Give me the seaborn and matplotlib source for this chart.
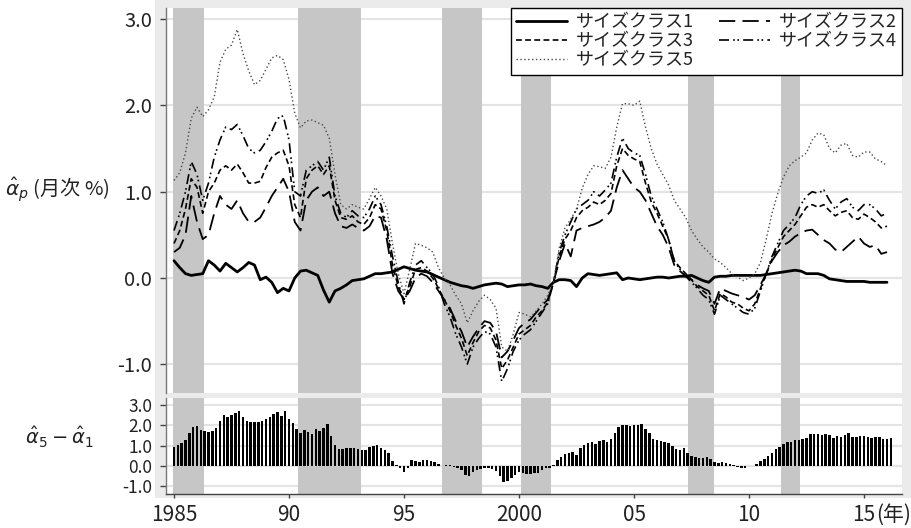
import numpy as np
import pandas as pd
import matplotlib
matplotlib.use("Agg")
import matplotlib.pyplot as plt
from matplotlib.patches import Rectangle
import seaborn as sns

# ---------------- data ----------------
# quarterly dates 1985Q1 .. 2016Q1
quarters = 1985 + np.arange(125) / 4.0
# bimonthly dates for the difference bars
bimonths = 1985 + np.arange(188) / 6.0

class1 = [
    0.20, 0.12, 0.05, 0.03,   # 1985
    0.04, 0.05, 0.20, 0.15,   # 1986
    0.08, 0.17, 0.12, 0.07,   # 1987
    0.12, 0.18, 0.15, -0.02,  # 1988
    0.01, -0.05, -0.17, -0.12,  # 1989
    -0.15, 0.00, 0.08, 0.09,  # 1990
    0.06, 0.03, -0.14, -0.28,  # 1991
    -0.15, -0.12, -0.08, -0.03,  # 1992
    -0.02, -0.01, 0.02, 0.05,  # 1993
    0.05, 0.06, 0.07, 0.10,   # 1994
    0.13, 0.11, 0.09, 0.08,   # 1995
    0.07, 0.04, 0.01, -0.02,  # 1996
    -0.05, -0.07, -0.09, -0.10,  # 1997
    -0.12, -0.10, -0.08, -0.07,  # 1998
    -0.06, -0.07, -0.10, -0.09,  # 1999
    -0.08, -0.08, -0.07, -0.09,  # 2000
    -0.10, -0.12, -0.05, -0.02,  # 2001
    -0.02, -0.03, -0.10, 0.00,  # 2002
    0.05, 0.04, 0.03, 0.04,   # 2003
    0.05, 0.06, -0.02, 0.00,  # 2004
    -0.01, -0.02, -0.01, 0.00,  # 2005
    0.01, 0.01, 0.00, 0.01,   # 2006
    0.02, 0.02, 0.03, 0.00,   # 2007
    -0.03, -0.05, 0.01, 0.02,  # 2008
    0.02, 0.03, 0.03, 0.03,   # 2009
    0.03, 0.03, 0.03, 0.04,   # 2010
    0.05, 0.06, 0.07, 0.08,   # 2011
    0.09, 0.08, 0.05, 0.05,   # 2012
    0.05, 0.03, -0.01, -0.02,  # 2013
    -0.03, -0.04, -0.04, -0.04,  # 2014
    -0.04, -0.05, -0.05, -0.05,  # 2015
    -0.05,                     # 2016
]

class2 = [
    0.30, 0.35, 0.50, 0.95,
    0.65, 0.45, 0.50, 0.75,
    0.95, 0.85, 0.80, 0.90,
    0.75, 0.65, 0.65, 0.70,
    0.82, 0.95, 1.05, 1.15,
    1.00, 0.65, 0.55, 0.90,
    1.00, 1.05, 0.95, 1.00,
    0.75, 0.60, 0.58, 0.62,
    0.58, 0.55, 0.60, 0.72,
    0.70, 0.45, 0.05, -0.15,
    -0.25, -0.15, 0.00, 0.05,
    0.02, -0.05, -0.15, -0.25,
    -0.35, -0.50, -0.62, -0.80,
    -0.68, -0.58, -0.50, -0.52,
    -0.62, -0.92, -0.85, -0.72,
    -0.58, -0.52, -0.48, -0.40,
    -0.32, -0.25, -0.05, 0.20,
    0.40, 0.25, 0.55, 0.58,
    0.60, 0.62, 0.65, 0.70,
    0.78, 1.05, 1.25, 1.15,
    1.05, 1.00, 0.90, 0.75,
    0.60, 0.50, 0.36, 0.15,
    0.08, 0.02, -0.02, -0.08,
    -0.12, -0.15, -0.30, -0.12,
    -0.15, -0.18, -0.20, -0.22,
    -0.25, -0.20, -0.08, 0.05,
    0.20, 0.30, 0.38, 0.42,
    0.48, 0.52, 0.55, 0.56,
    0.50, 0.44, 0.40, 0.33,
    0.30, 0.36, 0.42, 0.48,
    0.40, 0.36, 0.38, 0.28,
    0.30,
]

class3 = [
    0.40, 0.55, 0.80, 1.15,
    1.05, 0.75, 1.00, 1.10,
    1.25, 1.30, 1.25, 1.32,
    1.22, 1.10, 1.10, 1.12,
    1.28, 1.40, 1.45, 1.48,
    1.30, 0.85, 0.70, 1.15,
    1.25, 1.30, 1.20, 1.30,
    0.90, 0.70, 0.68, 0.72,
    0.65, 0.62, 0.70, 0.85,
    0.80, 0.55, 0.15, -0.10,
    -0.25, -0.10, 0.10, 0.12,
    0.08, 0.00, -0.12, -0.25,
    -0.38, -0.55, -0.70, -0.90,
    -0.75, -0.62, -0.55, -0.58,
    -0.72, -1.05, -0.95, -0.80,
    -0.65, -0.60, -0.55, -0.45,
    -0.38, -0.28, -0.05, 0.25,
    0.45, 0.55, 0.70, 0.78,
    0.82, 0.88, 0.85, 0.90,
    0.98, 1.30, 1.50, 1.42,
    1.38, 1.35, 1.10, 0.88,
    0.75, 0.60, 0.45, 0.20,
    0.12, 0.05, -0.02, -0.10,
    -0.15, -0.20, -0.38, -0.18,
    -0.22, -0.28, -0.30, -0.35,
    -0.38, -0.30, -0.12, 0.05,
    0.22, 0.35, 0.48, 0.55,
    0.62, 0.72, 0.82, 0.85,
    0.82, 0.85, 0.78, 0.72,
    0.76, 0.78, 0.70, 0.68,
    0.74, 0.70, 0.65, 0.58,
    0.60,
]

class4 = [
    0.55, 0.75, 1.00, 1.35,
    1.20, 0.90, 1.10, 1.40,
    1.60, 1.75, 1.72, 1.78,
    1.65, 1.50, 1.45, 1.48,
    1.58, 1.70, 1.85, 1.88,
    1.60, 1.00, 0.95, 1.25,
    1.30, 1.35, 1.25, 1.40,
    0.95, 0.75, 0.70, 0.78,
    0.72, 0.70, 0.80, 0.95,
    0.85, 0.60, 0.25, -0.05,
    -0.30, -0.05, 0.15, 0.20,
    0.12, 0.05, -0.10, -0.30,
    -0.45, -0.65, -0.80, -1.00,
    -0.80, -0.70, -0.62, -0.65,
    -0.80, -1.20, -1.05, -0.85,
    -0.72, -0.65, -0.60, -0.50,
    -0.40, -0.30, -0.05, 0.30,
    0.50, 0.65, 0.80, 0.85,
    0.90, 1.00, 0.95, 1.02,
    1.10, 1.40, 1.62, 1.50,
    1.45, 1.42, 1.20, 0.95,
    0.80, 0.65, 0.45, 0.20,
    0.10, 0.02, -0.05, -0.12,
    -0.20, -0.25, -0.42, -0.20,
    -0.25, -0.30, -0.35, -0.40,
    -0.42, -0.35, -0.15, 0.05,
    0.25, 0.40, 0.55, 0.62,
    0.70, 0.85, 0.95, 1.00,
    0.98, 1.02, 0.90, 0.80,
    0.88, 0.92, 0.82, 0.78,
    0.85, 0.85, 0.80, 0.72,
    0.75,
]

class5 = [
    1.13, 1.22, 1.45, 1.85,
    1.98, 1.87, 1.95, 2.10,
    2.50, 2.65, 2.70, 2.88,
    2.60, 2.40, 2.24, 2.29,
    2.42, 2.55, 2.58, 2.53,
    2.30, 1.91, 1.74, 1.82,
    1.83, 1.80, 1.77, 1.62,
    1.20, 0.85, 0.80, 0.85,
    0.82, 0.80, 0.92, 1.05,
    0.95, 0.80, 0.40, 0.05,
    -0.18, 0.10, 0.40, 0.38,
    0.35, 0.30, 0.12, 0.00,
    -0.08, -0.20, -0.30, -0.52,
    -0.38, -0.27, -0.20, -0.25,
    -0.35, -0.80, -0.85, -0.65,
    -0.40, -0.42, -0.45, -0.38,
    -0.30, -0.20, -0.05, 0.35,
    0.58, 0.68, 0.80, 1.04,
    1.20, 1.30, 1.29, 1.27,
    1.40, 1.75, 2.02, 2.02,
    2.00, 2.05, 1.75, 1.50,
    1.32, 1.20, 1.08, 0.90,
    0.80, 0.70, 0.55, 0.45,
    0.36, 0.30, 0.22, 0.18,
    0.12, 0.05, 0.01, -0.03,
    0.00, 0.05, 0.18, 0.45,
    0.75, 0.98, 1.17, 1.30,
    1.36, 1.40, 1.45, 1.60,
    1.68, 1.66, 1.50, 1.45,
    1.54, 1.56, 1.42, 1.40,
    1.46, 1.46, 1.38, 1.35,
    1.30,
]

# alpha5 - alpha1, bimonthly
diff51 = [
    0.92, 1.05, 1.15, 1.28, 1.60, 1.90,    # 1985
    1.95, 1.78, 1.70, 1.68, 1.72, 1.85,    # 1986
    2.20, 2.50, 2.42, 2.50, 2.58, 2.72,    # 1987
    2.40, 2.22, 2.15, 2.15, 2.17, 2.22,    # 1988
    2.30, 2.40, 2.55, 2.67, 2.45, 2.70,    # 1989
    2.30, 2.10, 1.82, 1.60, 1.78, 1.68,    # 1990
    1.55, 1.82, 1.70, 1.85, 2.05, 1.45,    # 1991
    1.03, 0.82, 0.85, 0.87, 0.86, 0.87,    # 1992
    0.83, 0.80, 0.79, 0.92, 0.98, 1.03,    # 1993
    0.90, 0.78, 0.65, 0.26, 0.05, -0.10,   # 1994
    -0.28, -0.10, 0.30, 0.25, 0.22, 0.30,  # 1995
    0.30, 0.25, 0.20, 0.10, 0.00, 0.03,    # 1996
    0.05, -0.05, -0.12, -0.20, -0.45, -0.50,  # 1997
    -0.28, -0.20, -0.16, -0.12, -0.11, -0.15,  # 1998
    -0.25, -0.50, -0.77, -0.72, -0.60, -0.45,  # 1999
    -0.28, -0.33, -0.37, -0.39, -0.35, -0.32,  # 2000
    -0.22, -0.12, -0.08, 0.03, 0.30, 0.45,  # 2001
    0.58, 0.64, 0.70, 0.55, 0.87, 1.05,    # 2002
    1.15, 1.18, 1.08, 1.22, 1.28, 1.20,    # 2003
    1.32, 1.60, 1.90, 2.00, 2.00, 1.96,    # 2004
    2.00, 2.03, 2.05, 1.80, 1.62, 1.35,    # 2005
    1.27, 1.25, 1.20, 1.13, 1.00, 0.85,    # 2006
    0.79, 0.87, 0.65, 0.50, 0.42, 0.38,    # 2007
    0.38, 0.45, 0.35, 0.18, 0.15, 0.21,    # 2008
    0.17, 0.12, 0.05, -0.03, -0.08, -0.11,  # 2009
    -0.02, 0.02, 0.10, 0.26, 0.36, 0.50,   # 2010
    0.65, 0.82, 0.95, 1.10, 1.18, 1.20,    # 2011
    1.28, 1.28, 1.32, 1.36, 1.56, 1.55,    # 2012
    1.55, 1.52, 1.58, 1.50, 1.36, 1.47,    # 2013
    1.44, 1.50, 1.60, 1.44, 1.42, 1.45,    # 2014
    1.47, 1.44, 1.38, 1.40, 1.43, 1.32,    # 2015
    1.35, 1.36,                            # 2016
]

series_names = ["サイズクラス1", "サイズクラス2", "サイズクラス3", "サイズクラス4", "サイズクラス5"]

# recession bands (shaded periods)
rec_start = [1984.95, 1990.40, 1996.65, 2000.10, 2007.35, 2011.40]
rec_end = [1986.30, 1993.15, 1998.40, 2001.40, 2008.50, 2012.20]

xtick_pos = [1985, 1990, 1995, 2000, 2005, 2010, 2015]
xtick_lab = ["1985", "90", "95", "2000", "05", "10", "15"]
ytick_pos = [-1, 0, 1, 2, 3]
ytick_lab = ["-1.0", "0.0", "1.0", "2.0", "3.0"]

# ---------------- styling ----------------
sns.set_theme(style="ticks")
plt.rcParams["font.family"] = ["Noto Sans CJK JP", "DejaVu Sans"]
plt.rcParams["mathtext.fontset"] = "dejavusans"
plt.rcParams["axes.unicode_minus"] = False
TXT = "#222222"

W, H = 911, 528
fig = plt.figure(figsize=(W / 100, H / 100), dpi=100)
fig.patch.set_facecolor("white")


def box(l, t, r, b):
    return [l / W, 1 - b / H, (r - l) / W, (b - t) / H]


fig.add_artist(Rectangle((155 / W, 1 - 498 / H), (W - 155) / W, 498 / H,
                         transform=fig.transFigure, facecolor="#ebebeb",
                         edgecolor="none", zorder=-10))

ax1 = fig.add_axes(box(166, 8, 902, 393))
ax2 = fig.add_axes(box(166, 398, 902, 494), sharex=ax1)

df = pd.DataFrame({"year": quarters})
for name, vals in zip(series_names, [class1, class2, class3, class4, class5]):
    df[name] = vals

line_styles = [
    dict(color="black", linewidth=2.0, linestyle="-"),
    dict(color="black", linewidth=1.3, linestyle=(0, (9, 4))),
    dict(color="black", linewidth=1.2, linestyle=(0, (3.5, 2))),
    dict(color="black", linewidth=1.2, linestyle=(0, (6, 2.5, 1, 1.5, 1, 2.5))),
    dict(color="#4a4a4a", linewidth=1.0, linestyle=(0, (1, 1.8))),
]

for ax in (ax1, ax2):
    ax.set_facecolor("white")
    for s, e in zip(rec_start, rec_end):
        ax.axvspan(s, e, color="#c6c6c6", lw=0, zorder=1)
    ax.set_axisbelow(True)
    ax.yaxis.grid(True, color="#e4e4e4", linewidth=1.5)
    ax.xaxis.grid(False)

for name, st in zip(series_names, line_styles):
    sns.lineplot(data=df, x="year", y=name, ax=ax1, label=name, zorder=3, **st)

sns.barplot(x=bimonths, y=diff51, ax=ax2, native_scale=True, color="black",
            saturation=1, width=0.68, errorbar=None, linewidth=0, zorder=2)

xmin = 1985 - 8 / 23.0
xmax = 1985 + 728 / 23.0
ax1.set_xlim(xmin, xmax)
ax1.set_ylim(-1.333, 3.129)
ax2.set_ylim(-1.376, 3.34)

for ax in (ax1, ax2):
    ax.set_xlabel("")
    ax.set_ylabel("")
    ax.set_yticks(ytick_pos)
    ax.set_yticklabels(ytick_lab)
    for sp in ("top", "right"):
        ax.spines[sp].set_visible(False)
    ax.spines["left"].set_color("#777777")
    ax.spines["left"].set_linewidth(1.0)

ax1.spines["bottom"].set_visible(False)
ax1.tick_params(axis="x", bottom=False, labelbottom=False)
ax1.tick_params(axis="y", left=True, length=4, width=1, color="#444444",
                labelsize=14.5, pad=6, labelcolor=TXT)
ax2.tick_params(axis="y", left=True, length=4, width=1, color="#444444",
                labelsize=12.5, pad=6, labelcolor=TXT)

XPAD = 4
XLEN = 3
ax2.spines["bottom"].set_color("#444444")
ax2.spines["bottom"].set_linewidth(1.0)
ax2.set_xticks(xtick_pos)
ax2.set_xticklabels(xtick_lab)
ax2.tick_params(axis="x", bottom=True, length=XLEN, width=1, color="#444444",
                labelsize=15, pad=XPAD, labelcolor=TXT)
ax2.set_xlim(xmin, xmax)

ax2.annotate("(年)", xy=(2015, 0), xycoords=("data", "axes fraction"),
             xytext=(9, -(XPAD + XLEN)), textcoords="offset points",
             ha="left", va="top", fontsize=15, color=TXT)

# legend: rows (1,2), (3,4), (5)
handles, labels = ax1.get_legend_handles_labels()
order = [0, 2, 4, 1, 3]
leg = ax1.legend([handles[i] for i in order], [labels[i] for i in order],
                 ncol=2, loc="upper right", bbox_to_anchor=(1.0, 1.0),
                 borderaxespad=0.0, fontsize=13, frameon=True, fancybox=False,
                 framealpha=1, edgecolor="black", handlelength=2.8,
                 handletextpad=0.5, columnspacing=1.4, labelspacing=0.05,
                 borderpad=0.3)
leg.get_frame().set_linewidth(1.0)
for t in leg.get_texts():
    t.set_color(TXT)

fig.text(5 / W, 1 - 190 / H, r"$\hat{\alpha}_p$ (月次 %)", ha="left", va="center",
         fontsize=14.5, color=TXT)
fig.text(25 / W, 1 - 437 / H, r"$\hat{\alpha}_5-\hat{\alpha}_1$", ha="left",
         va="center", fontsize=14, color=TXT)

fig.savefig("out.png", dpi=100, facecolor="white")
